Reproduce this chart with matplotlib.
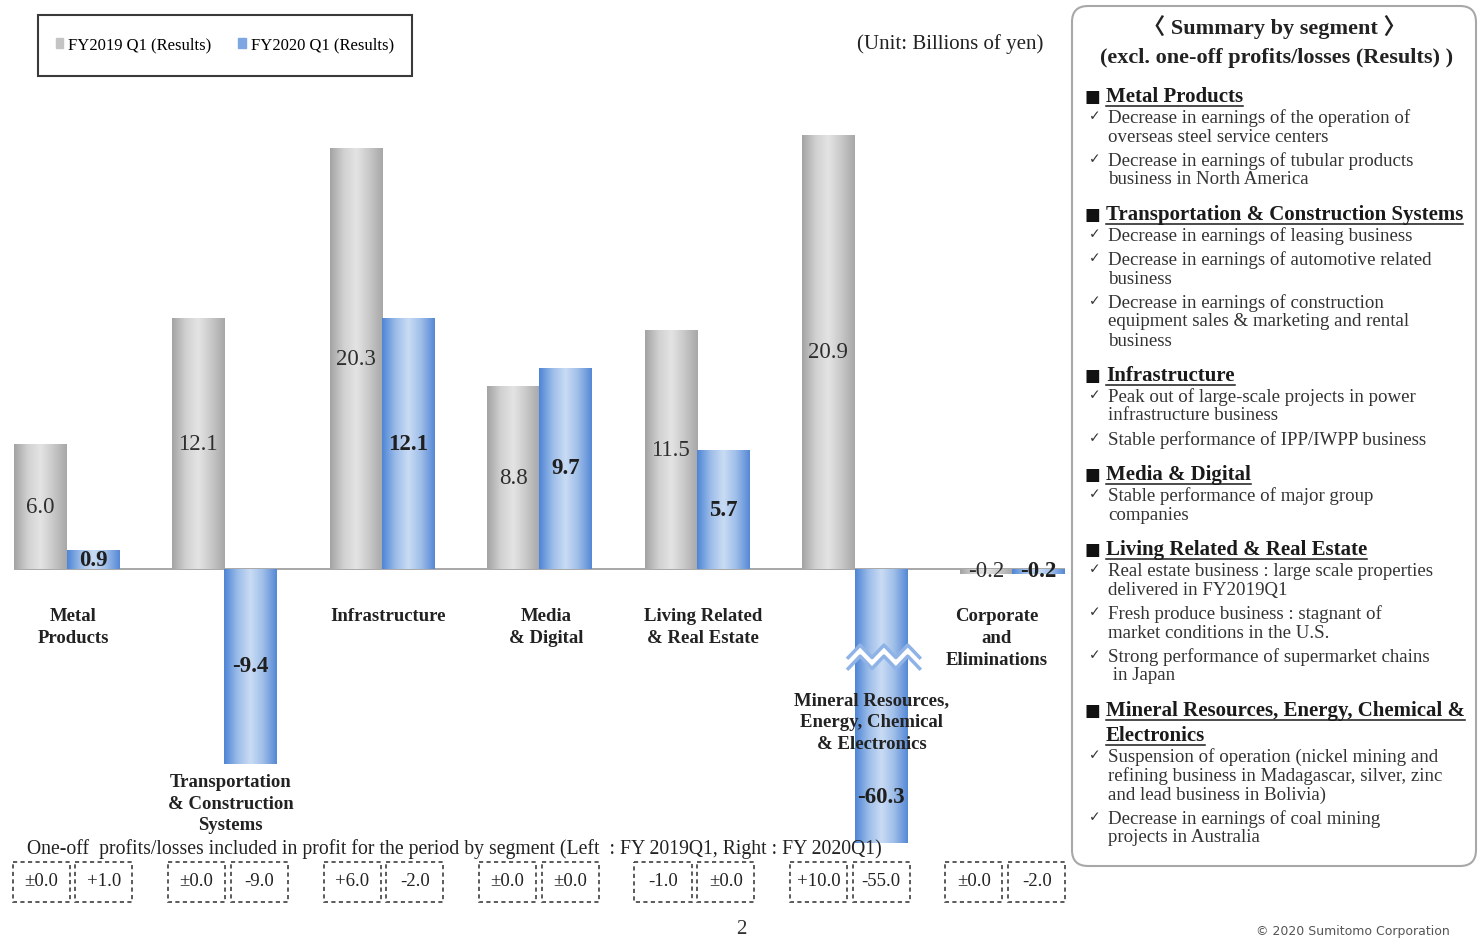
import numpy as np
import matplotlib
matplotlib.use("Agg")
import matplotlib.pyplot as plt
import matplotlib.transforms as mtransforms
from matplotlib.patches import Rectangle, FancyBboxPatch, Patch
from matplotlib.colors import LinearSegmentedColormap

W, H = 1478, 939

# --- data ---
segments = ["Metal\nProducts", "Transportation\n& Construction\nSystems", "Infrastructure",
            "Media\n& Digital", "Living Related\n& Real Estate",
            "Mineral Resources,\nEnergy, Chemical\n& Electronics", "Corporate\nand\nEliminations"]
fy2019 = [6.0, 12.1, 20.3, 8.8, 11.5, 20.9, -0.2]
fy2020 = [0.9, -9.4, 12.1, 9.7, 5.7, -60.3, -0.2]
oneoff_2019 = ["±0.0", "±0.0", "+6.0", "±0.0", "-1.0", "+10.0", "±0.0"]
oneoff_2020 = ["+1.0", "-9.0", "-2.0", "±0.0", "±0.0", "-55.0", "-2.0"]
series_names = ["FY2019 Q1 (Results)", "FY2020 Q1 (Results)"]

summary = [
    ("Metal Products",
     [["Decrease in earnings of the operation of", "overseas steel service centers"],
      ["Decrease in earnings of tubular products", "business in North America"]]),
    ("Transportation & Construction Systems",
     [["Decrease in earnings of leasing business"],
      ["Decrease in earnings of automotive related", "business"],
      ["Decrease in earnings of construction", "equipment sales & marketing and rental", "business"]]),
    ("Infrastructure",
     [["Peak out of large-scale projects in power", "infrastructure business"],
      ["Stable performance of IPP/IWPP business"]]),
    ("Media & Digital",
     [["Stable performance of major group", "companies"]]),
    ("Living Related & Real Estate",
     [["Real estate business : large scale properties", "delivered in FY2019Q1"],
      ["Fresh produce business : stagnant of", "market conditions in the U.S."],
      ["Strong performance of supermarket chains", " in Japan"]]),
    ("Mineral Resources, Energy, Chemical &\nElectronics",
     [["Suspension of operation (nickel mining and", "refining business in Madagascar, silver, zinc",
       "and lead business in Bolivia)"],
      ["Decrease in earnings of coal mining", "projects in Australia"]]),
]

SERIF = ["Liberation Serif", "DejaVu Serif"]
plt.rcParams["font.family"] = SERIF

fig = plt.figure(figsize=(W / 100, H / 100), dpi=100)
fig.patch.set_facecolor("white")

# bar axes placed in pixels
ax = fig.add_axes([14 / W, (H - 843) / H, (1065 - 14) / W, (843 - 124) / H])
ax.axis("off")
ylo, yhi = -13.2, 21.5
ax.set_xlim(-0.336, len(segments) - 1 + 0.336)
ax.set_ylim(ylo, yhi)

# overlay axes in pixel coords (y downward) for slide text
ov = fig.add_axes([0, 0, 1, 1], zorder=5)
ov.set_xlim(0, W)
ov.set_ylim(H, 0)
ov.axis("off")
ov.patch.set_alpha(0)

x = np.arange(len(segments))
w = 0.333
gray_cmap = LinearSegmentedColormap.from_list("g", ["#a4a4a4", "#d0d0d0", "#e4e4e4", "#c8c8c8", "#a8a8a8"])
blue_cmap = LinearSegmentedColormap.from_list("b", ["#4f86d5", "#9bbce9", "#cadcf4", "#9dbde9", "#5689d6"])

ax.axhline(0, color="#a0a0a0", lw=1.3, zorder=1)
b19 = ax.bar(x - w / 2, fy2019, w, color="#c4c4c4", zorder=2)
b20 = ax.bar(x + w / 2, fy2020, w, color="#7ea6e0", zorder=2)

grad = np.linspace(0, 1, 64).reshape(1, -1)
for bars, cm in ((b19, gray_cmap), (b20, blue_cmap)):
    for r in bars:
        x0, y0 = r.get_x(), r.get_y()
        ax.imshow(grad, cmap=cm, aspect="auto", interpolation="bicubic", zorder=3,
                  extent=[x0, x0 + r.get_width(), y0, y0 + r.get_height()])
ax.set_xlim(-0.336, len(segments) - 1 + 0.336)
ax.set_ylim(ylo, yhi)

# value labels
for bars, vals, wt, col in ((b19, fy2019, "normal", "#2e2e2e"), (b20, fy2020, "bold", "#1f1f1f")):
    for r, v in zip(bars, vals):
        yy = max(v / 2, ylo + 2.2)
        ax.text(r.get_x() + r.get_width() / 2, yy, f"{v:.1f}", ha="center", va="center",
                fontsize=16.5, fontweight=wt, color=col, zorder=6)

# axis break marks on the clipped bar
brk = -4.5
for r, v in zip(b20, fy2020):
    if v < ylo:
        xs = np.linspace(r.get_x() - 0.04, r.get_x() + r.get_width() + 0.08, 7)
        zz = np.array([0, 1, 0, 1, 0, 1, 0]) * 0.6
        ax.plot(xs, brk + zz, color="white", lw=6, zorder=4, solid_joinstyle="miter")
        ax.plot(xs, brk + zz + 0.25, color="#8fb3e6", lw=2.5, zorder=5)
        ax.plot(xs, brk + zz - 0.28, color="#8fb3e6", lw=2.5, zorder=5)

# category labels
for i, name in enumerate(segments):
    low = min(0, fy2019[i], fy2020[i])
    dx = 0.04
    if low < ylo:
        top = brk - 1.4
        dx = 0.11
    elif low > -1:
        top = -1.85
        if i == len(segments) - 1:
            dx = -0.1
    else:
        top = low - 0.45
    ax.text(x[i] + dx, top, name, ha="center", va="top", fontsize=13.5,
            fontweight="bold", color="#222222", linespacing=1.38, zorder=7)

# legend
ov.add_patch(Rectangle((38, 15), 374, 61, fill=False, ec="#3a3a3a", lw=1.5))
handles = [Patch(color="#c4c4c4"), Patch(color="#7ea6e0")]
fig.legend(handles, series_names, loc="center", bbox_to_anchor=(225 / W, 1 - 45 / H), ncol=2,
           frameon=False, handlelength=0.45, handleheight=0.5, handletextpad=0.3,
           columnspacing=1.6, prop={"family": SERIF, "size": 12})

ov.text(1043, 44, "(Unit: Billions of yen)", ha="right", va="center", fontsize=15, color="#222222")

# one-off boxes
ov.text(27, 849, "One-off  profits/losses included in profit for the period by segment (Left  : FY 2019Q1, Right : FY 2020Q1)",
        ha="left", va="center", fontsize=14.2, color="#222222")
bt = mtransforms.blended_transform_factory(ax.transData, ov.transData)
hw, off = 0.181, 0.199
for i in range(len(segments)):
    pc = x[i] * 0.987 + 0.035
    for sgn, txt in ((-1, oneoff_2019[i]), (1, oneoff_2020[i])):
        cx = pc + sgn * off
        ov.add_patch(Rectangle((cx - hw, 862), 2 * hw, 40, transform=bt, fill=False,
                               ec="#404040", lw=1.2, ls=(0, (2.5, 2)), clip_on=False))
        ov.text(cx, 882, txt, transform=bt, ha="center", va="center", fontsize=13.5, color="#222222")

ov.text(741, 929, "2", ha="center", va="center", fontsize=15, color="#333333")
ov.text(1353, 932, "© 2020 Sumitomo Corporation", ha="center", va="center", fontsize=9,
        family="DejaVu Sans", color="#555555")

# summary panel
ov.add_patch(FancyBboxPatch((1072, 6), 404, 860, boxstyle="round,pad=0,rounding_size=16",
                            fc="white", ec="#a8a8a8", lw=1.5, clip_on=False))
ov.text(1274, 27, "〈 Summary by segment 〉", ha="center", va="center", fontsize=16,
        fontweight="bold", family=["Liberation Serif", "Noto Sans CJK JP"], color="#222222")
ov.text(1277, 58, "(excl. one-off profits/losses (Results) )", ha="center", va="center",
        fontsize=16, fontweight="bold", color="#222222")

headers = []
y = 97
for head, items in summary:
    for k, line in enumerate(head.split("\n")):
        if k == 0:
            ov.text(1092, y, "■", ha="center", va="center", fontsize=12, family="DejaVu Sans", color="#111111")
        headers.append(ov.text(1106, y, line, ha="left", va="center", fontsize=15,
                               fontweight="bold", color="#1a1a1a"))
        y += 25
    y += 21 - 25
    for item in items:
        ov.text(1095, y - 2, "✓", ha="center", va="center", fontsize=10, family="DejaVu Sans", color="#333333")
        for line in item:
            ov.text(1108, y, line, ha="left", va="center", fontsize=13.6, color="#333333")
            y += 19
        y += 5
    y += 11

# underline the headers
fig.canvas.draw()
rend = fig.canvas.get_renderer()
inv = ov.transData.inverted()
for t in headers:
    bb = t.get_window_extent(rend)
    (xa, ya), (xb, _) = inv.transform([(bb.x0, bb.y0), (bb.x1, bb.y0)])
    ov.plot([xa, xb], [ya - 1, ya - 1], color="#1a1a1a", lw=1.1)

fig.savefig("out.png", dpi=100, facecolor="white")
